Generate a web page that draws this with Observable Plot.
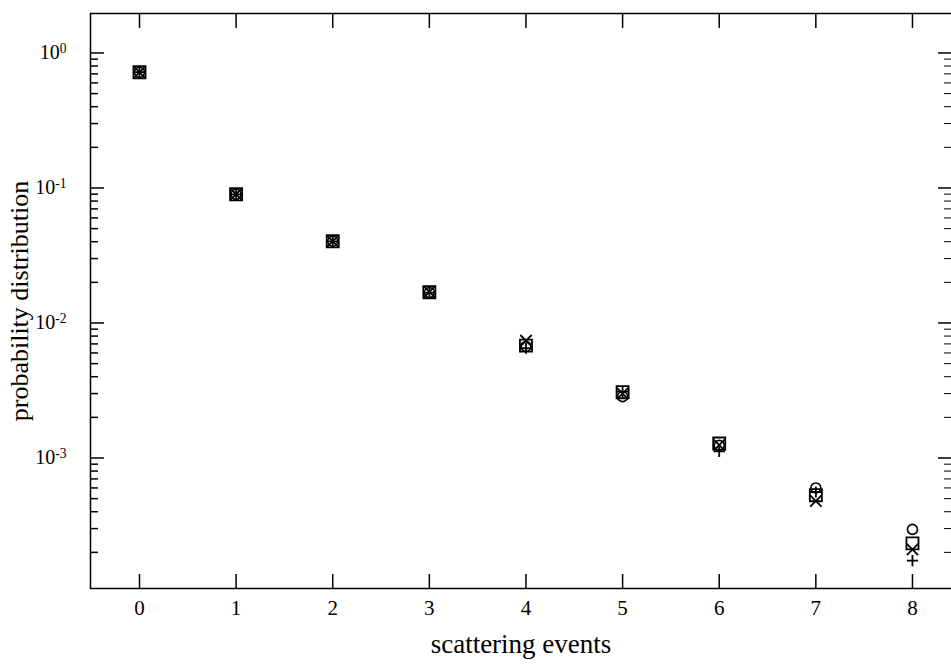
<!DOCTYPE html>
<html><head><meta charset="utf-8">
<script src="https://cdn.jsdelivr.net/npm/d3@7"></script>
<script src="https://cdn.jsdelivr.net/npm/@observablehq/plot@0.6"></script>
<style>body{margin:0;background:#fff;} #chart svg{display:block;}</style>
</head><body><div id="chart"></div>
<script>
// scattering events
const events = [0, 1, 2, 3, 4, 5, 6, 7, 8];
// probability distribution, four series (marker shapes)
const squareVals = [0.72, 0.0898, 0.0403, 0.0169, 0.0068, 0.00307, 0.00128, 0.00053, 0.000233];
const circleVals = [0.72, 0.0898, 0.0403, 0.0168, 0.0067, 0.00285, 0.00124, 0.00060, 0.000296];
const plusVals   = [0.72, 0.0898, 0.0402, 0.0168, 0.0065, 0.00310, 0.00112, 0.00056, 0.000174];
const timesVals  = [0.72, 0.0900, 0.0403, 0.0170, 0.0074, 0.00300, 0.00125, 0.00048, 0.000210];
const xTicks = [0, 1, 2, 3, 4, 5, 6, 7, 8];
const yMajorTicks = [1, 0.1, 0.01, 0.001];
const yMinorTicks = [0.9,0.8,0.7,0.6,0.5,0.4,0.3,0.2,
  0.09,0.08,0.07,0.06,0.05,0.04,0.03,0.02,
  0.009,0.008,0.007,0.006,0.005,0.004,0.003,0.002,
  0.0009,0.0008,0.0007,0.0006,0.0005,0.0004,0.0003,0.0002];

const table = [];
[["square", squareVals], ["circle", circleVals], ["plus", plusVals], ["times", timesVals]]
  .forEach(([sym, vals]) => events.forEach((e, i) => table.push({event: e, p: vals[i], sym})));

const FONT = "Liberation Serif";
const sw = 1.5;
const noText = () => "";

const chart = Plot.plot({
  width: 951, height: 664,
  marginLeft: 90, marginRight: 0, marginTop: 13, marginBottom: 76,
  style: {fontFamily: FONT, background: "#fff", color: "#000"},
  x: {domain: [-0.507, 8.404]},
  y: {type: "log", domain: [1.08e-4, 1.96]},
  marks: [
    Plot.frame({stroke: "#000", strokeWidth: sw, insetRight: -3}),
    Plot.axisX({anchor: "bottom", ticks: xTicks, tickSize: -14, tickFormat: noText, strokeWidth: sw, label: null}),
    Plot.axisX({anchor: "top", ticks: xTicks, tickSize: -14, tickFormat: noText, strokeWidth: sw, label: null}),
    Plot.axisX({anchor: "bottom", ticks: xTicks, tickSize: 0, tickPadding: 12, fontSize: 21, tickFormat: d => String(d), label: null}),
    Plot.axisY({anchor: "left", ticks: yMajorTicks, tickSize: -14, tickFormat: noText, strokeWidth: sw, label: null}),
    Plot.axisY({anchor: "left", ticks: yMinorTicks, tickSize: -8, tickFormat: noText, strokeWidth: sw, label: null}),
    Plot.axisY({anchor: "right", ticks: yMajorTicks, tickSize: -14, tickFormat: noText, strokeWidth: sw, label: null}),
    Plot.axisY({anchor: "right", ticks: yMinorTicks, tickSize: -8, tickFormat: noText, strokeWidth: 1, label: null}),
    Plot.axisY({anchor: "left", ticks: yMajorTicks, tickSize: 0, tickPadding: 24, fontSize: 20,
      tickFormat: d => "10^" + Math.round(Math.log10(d)), label: null}),
    Plot.dot(table.filter(d => d.sym === "square"), {x: "event", y: "p", symbol: "square", r: 6.8, fill: "none", stroke: "#000", strokeWidth: 1.8}),
    Plot.dot(table.filter(d => d.sym === "circle"), {x: "event", y: "p", symbol: "circle", r: 5, fill: "none", stroke: "#000", strokeWidth: 1.6}),
    Plot.dot(table.filter(d => d.sym === "plus"), {x: "event", y: "p", symbol: "plus", r: 3.7, stroke: "#000", strokeWidth: 1.8}),
    Plot.dot(table.filter(d => d.sym === "times"), {x: "event", y: "p", symbol: "times", r: 5.2, stroke: "#000", strokeWidth: 1.8}),
    Plot.text(["scattering events"], {frameAnchor: "bottom", dy: 64, fontSize: 27, textAnchor: "middle", fill: "#000"}),
    Plot.text(["probability distribution"], {frameAnchor: "left", dx: -71, rotate: -90, textAnchor: "middle", fontSize: 26, fill: "#000"})
  ]
});

// superscript exponents on the y tick labels
chart.querySelectorAll('g[aria-label="y-axis tick label"] text').forEach(t => {
  const s = t.textContent;
  if (!s.startsWith("10^")) return;
  const exp = s.slice(3);
  t.textContent = "";
  const base = document.createElementNS("http://www.w3.org/2000/svg", "tspan");
  base.textContent = "10";
  const sup = document.createElementNS("http://www.w3.org/2000/svg", "tspan");
  sup.setAttribute("dy", "-0.45em");
  sup.setAttribute("font-size", "0.68em");
  sup.textContent = exp;
  t.appendChild(base); t.appendChild(sup);
});

document.getElementById("chart").appendChild(chart);
</script>
</body></html>
